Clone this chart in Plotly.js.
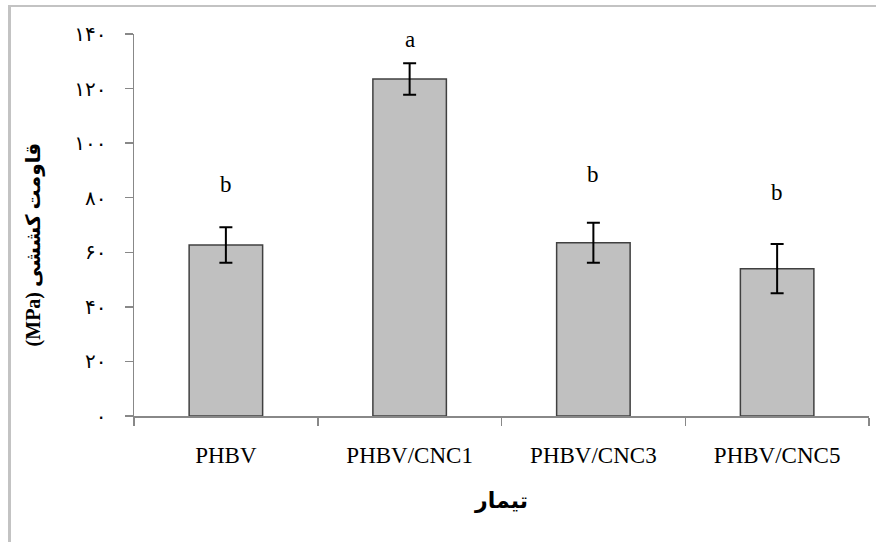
<!DOCTYPE html>
<html>
<head>
<meta charset="utf-8">
<script src="https://cdn.plot.ly/plotly-3.0.1.min.js"></script>
<style>
  html, body { margin: 0; padding: 0; background: #fff; }
  #wrap { position: relative; width: 876px; height: 542px; }
  #chart { width: 876px; height: 542px; }
  #frame { position: absolute; left: 8px; top: 5px; right: 0; bottom: 0;
           border-top: 2px solid #c3c3c3; border-left: 3px solid #c3c3c3; pointer-events: none; }
</style>
</head>
<body>
<div id="wrap">
  <div id="chart"></div>
  <div id="frame"></div>
</div>
<script>
const categories = ["PHBV", "PHBV/CNC1", "PHBV/CNC3", "PHBV/CNC5"];
const tensileStrength = [62.7, 123.5, 63.5, 54.0];
const errorValues = [6.5, 5.8, 7.3, 9.0];
const groupLetters = ["b", "a", "b", "b"];
const letterY = [85, 138, 88.5, 82];
const yTickValues = [0, 20, 40, 60, 80, 100, 120, 140];
const yTickLabels = ["۰", "۲۰", "۴۰", "۶۰", "۸۰", "۱۰۰", "۱۲۰", "۱۴۰"];
const xTitle = "تیمار";
const yTitle = "(MPa) قاومت کششی";

const serif = "Liberation Serif, Times New Roman, serif";

const trace = {
  type: "bar",
  x: categories,
  y: tensileStrength,
  marker: { color: "#c0c0c0", line: { color: "#404040", width: 1.5 } },
  width: 0.4,
  error_y: { type: "data", array: errorValues, visible: true, color: "#000", thickness: 2, width: 6.5 },
  hoverinfo: "none"
};

const annotations = categories.map((c, i) => ({
  x: c, y: letterY[i], xref: "x", yref: "y",
  text: groupLetters[i], showarrow: false,
  font: { family: serif, size: 23, color: "#000" }
}));

annotations.push({
  xref: "paper", yref: "paper", x: -0.137, y: 0.45,
  xanchor: "center", yanchor: "middle", textangle: -90,
  text: yTitle, showarrow: false,
  font: { family: "Liberation Serif, DejaVu Sans", size: 20, color: "#000", weight: "bold" }
});

const layout = {
  width: 876, height: 542,
  margin: { l: 134, r: 7, t: 34, b: 126 },
  paper_bgcolor: "#fff", plot_bgcolor: "#fff",
  showlegend: false,
  xaxis: {
    type: "category",
    tickson: "boundaries",
    ticks: "outside", ticklen: 8, tickcolor: "#888", tickwidth: 1.5,
    showline: true, linecolor: "#888", linewidth: 1.5,
    showgrid: false, zeroline: false,
    tickfont: { family: serif, size: 23, color: "#000" },
    ticklabelstandoff: 18,
    title: { text: xTitle, font: { family: "DejaVu Sans, Noto Sans", size: 22, color: "#000", weight: "bold" }, standoff: 25 }
  },
  yaxis: {
    range: [0, 140],
    tickmode: "array", tickvals: yTickValues, ticktext: yTickLabels,
    ticks: "outside", ticklen: 8, tickcolor: "#888", tickwidth: 1.5,
    showline: true, linecolor: "#888", linewidth: 1.5,
    showgrid: false, zeroline: false,
    tickfont: { family: "DejaVu Sans, Noto Sans", size: 20, color: "#000" },
    ticklabelstandoff: 14
  },
  annotations: annotations
};

Plotly.newPlot("chart", [trace], layout, { staticPlot: true, displayModeBar: false });
</script>
</body>
</html>
